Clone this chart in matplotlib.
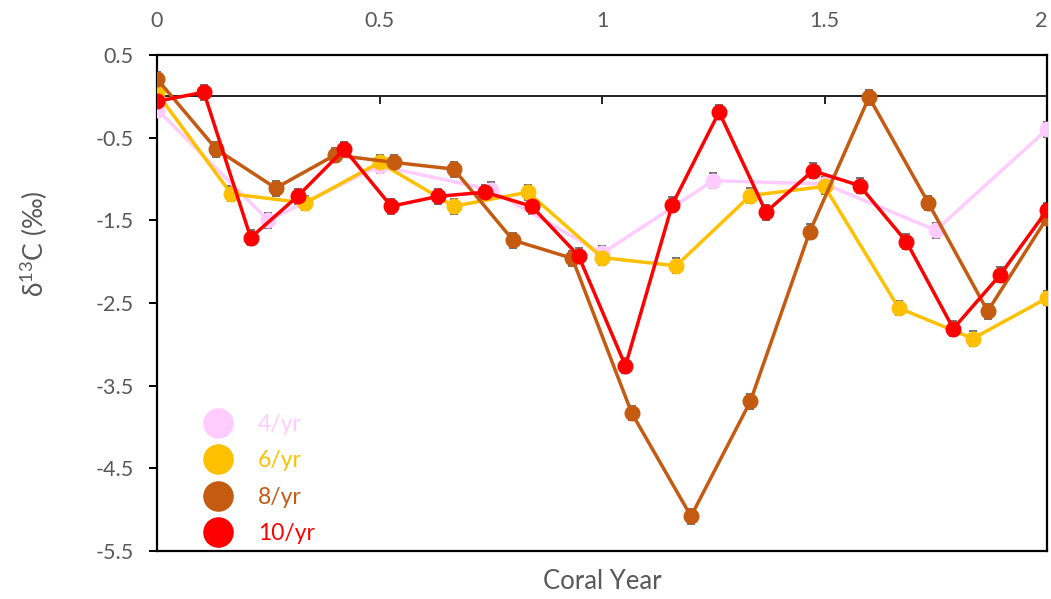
import matplotlib
matplotlib.use("Agg")
import matplotlib.pyplot as plt
from matplotlib.lines import Line2D
import numpy as np

plt.rcParams.update({
    "font.family": ["Lato", "DejaVu Sans"],
    "mathtext.fontset": "custom",
    "mathtext.rm": "Lato",
    "mathtext.default": "regular",
})

d13c_4 = [-0.16, -1.50, -0.84, -1.13, -1.90, -1.02, -1.06, -1.62, -0.40]
d13c_6 = [0.04, -1.18, -1.29, -0.80, -1.33, -1.16, -1.95, -2.05, -1.20,
          -1.09, -2.56, -2.93, -2.44]
d13c_8 = [0.21, -0.64, -1.11, -0.71, -0.80, -0.88, -1.74, -1.96, -3.83,
          -5.08, -3.69, -1.64, -0.01, -1.29, -2.60, -1.47]
d13c_10 = [-0.06, 0.05, -1.71, -1.21, -0.64, -1.33, -1.21, -1.16, -1.33,
           -1.93, -3.26, -1.31, -0.19, -1.40, -0.90, -1.08, -1.76, -2.81,
           -2.16, -1.38]
err = 0.09

labels = ["4/yr", "6/yr", "8/yr", "10/yr"]
colors = ["#FFCCFF", "#FFC000", "#C55A11", "#FF0000"]
series = [d13c_4, d13c_6, d13c_8, d13c_10]

xticks = [0, 0.5, 1, 1.5, 2]
yticks = [0.5, -0.5, -1.5, -2.5, -3.5, -4.5, -5.5]
grey = "#595959"

fig = plt.figure(figsize=(10.51, 5.99), dpi=100)
ax = fig.add_axes([0.1494, 0.0801, 0.8468, 0.8281])

for vals, c in zip(series, colors):
    x = np.linspace(0, 2, len(vals))
    ax.errorbar(x, vals, yerr=err, fmt="none", ecolor=grey, elinewidth=0.8,
                capsize=3, capthick=1.2, zorder=2)
    ax.plot(x, vals, "-o", color=c, lw=2.5, ms=10.5, zorder=3)

# zero line carrying the x ticks
ax.axhline(0, color="#222222", lw=1.4, zorder=1)
ax.plot(xticks, [0] * len(xticks), ls="none", marker=3, ms=6, mew=1.4,
        color="#222222", zorder=1)

ax.set_xlim(0, 2)
ax.set_ylim(-5.5, 0.5)
ax.set_xticks(xticks)
ax.set_xticklabels(["0", "0.5", "1", "1.5", "2"])
ax.set_yticks(yticks)
ax.set_yticklabels([f"{v:g}" for v in yticks])
ax.xaxis.tick_top()
ax.tick_params(axis="x", length=0, pad=17, labelsize=15.5, labelcolor=grey)
ax.tick_params(axis="y", direction="out", length=6, width=1.4, pad=11,
               labelsize=15.5, labelcolor=grey)
for s in ax.spines.values():
    s.set_color("black")
    s.set_linewidth(1.6)

ax.xaxis.set_label_position("bottom")
ax.set_xlabel("Coral Year", fontsize=18.5, color=grey, labelpad=13)
ax.set_ylabel("δ$^{13}$C (‰)", fontsize=19, color=grey)
ax.yaxis.set_label_coords(-0.12, 0.62)

handles = [Line2D([], [], ls="none", marker="o", ms=21, color=c) for c in colors]
leg = ax.legend(handles, labels, loc="lower left", bbox_to_anchor=(0.026, -0.028),
                frameon=False, fontsize=16.5, handletextpad=1.0,
                labelspacing=0.68, handlelength=1.5)
for t, c in zip(leg.get_texts(), colors):
    t.set_color(c)

# keep the last top label inside the canvas
ax.xaxis.get_major_ticks()[-1].label2.set_horizontalalignment("right")

fig.savefig("out.png", dpi=100)
